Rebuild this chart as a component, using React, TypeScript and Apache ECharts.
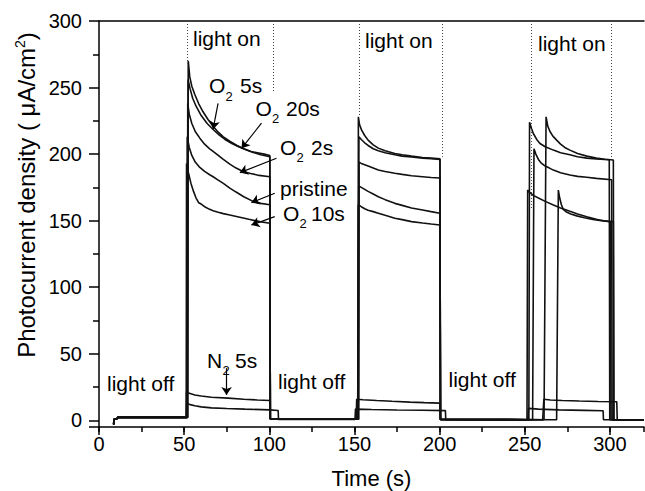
import React, { useEffect, useRef } from "react";
import * as echarts from "echarts";

type Pt = [number, number];

const FONT = '"Liberation Sans", Arial, Helvetica, sans-serif';

// Time axis (s) and current density axis (µA/cm²)
const timeRange: [number, number] = [0, 320];
const densityRange: [number, number] = [-5, 300];
const timeLabelStep = 50;

// Dark-state segment before the first illumination, shared by all traces
const darkStart: Pt[] = [[8.6, -3], [8.8, 0.8], [10.6, 1.2], [11, 2.2]];

const o2_5s: Pt[] = [
  ...darkStart, [52, 2.2], [52.4, 270], [53.3, 258], [54.5, 251], [56.2, 245], [58.5, 238], [61, 232], [64, 226],
  [67, 221], [70, 216.5], [73, 213], [77, 209.5], [81, 206.5], [85, 204], [89, 202], [93, 201], [97, 200],
  [100.3, 199], [100.6, 1], [152, 0.8], [152.3, 228], [153, 222], [154.2, 218], [156, 214], [158, 210.5],
  [161, 207], [164, 204.5], [168, 202.5], [173.7, 200.5], [178, 199.5], [183.5, 198.5], [190, 197.5],
  [195, 197], [200.2, 196.5], [200.5, 0.6], [252.4, 0.5], [252.8, 224], [254, 219], [255, 215.5], [257, 211],
  [258.9, 208], [262, 205.5], [266.8, 203], [271, 201], [276.5, 199.5], [281, 198], [286.4, 197], [292, 196.3],
  [299.6, 195.8], [299.9, 0.5], [320, 0.4],
];

const o2_20s: Pt[] = [
  ...darkStart, [52.1, 2.2], [52.3, 256], [53.5, 249], [55, 242], [57, 236], [60, 229], [63.5, 223], [67, 218.5],
  [70.5, 214.5], [74, 211], [78, 208], [82, 205.5], [86, 203.5], [90, 201.5], [95, 199.5], [100.3, 198],
  [100.6, 1], [152.3, 0.8], [152.6, 213], [154, 211], [156, 208.5], [158, 206.5], [161, 204], [164, 202.5],
  [168, 201], [173.7, 199.5], [178, 198.5], [183.5, 197.8], [190, 197], [195, 196.5], [200.2, 196],
  [200.5, 0.6], [261.3, 0.5], [262.5, 228], [263.5, 221], [264.8, 217], [266.5, 213.5], [268.7, 210.5],
  [271, 207.5], [273.5, 205], [276.5, 203], [281, 200.5], [286.4, 198.5], [292, 197], [297, 196.2],
  [302, 195.6], [302.3, 0.5], [320, 0.4],
];

const o2_2s: Pt[] = [
  ...darkStart, [51.9, 2.2], [52.1, 238], [53, 230], [54.5, 223], [56.5, 217], [59.2, 212], [62, 207.5],
  [65, 204], [67, 202], [70, 199], [73, 196], [76.8, 192.5], [80.5, 189.5], [84.6, 187], [89, 185.5],
  [94, 184], [100.3, 183], [100.6, 1], [152.5, 0.8], [152.7, 194], [154, 193], [156, 192], [158, 191],
  [161, 189.5], [164, 188], [168, 187], [173.7, 185.6], [178, 184.8], [183.5, 183.8], [190, 183],
  [195, 182.4], [200.2, 182], [200.5, 0.6], [254.6, 0.5], [255.4, 204], [256.5, 200], [258, 196],
  [259.5, 193.5], [262, 191], [264.5, 189.5], [266.8, 188], [271, 186], [276.5, 184.3], [281, 183.3],
  [286.4, 182.6], [292, 181.8], [301, 180.8], [301.3, 0.5], [320, 0.4],
];

const pristine: Pt[] = [
  ...darkStart, [51.6, 2.2], [51.8, 213], [53, 205], [54.5, 199], [56.5, 194], [59.2, 190], [62, 187],
  [65, 184.5], [67, 183], [70, 180.5], [73, 178], [76.8, 174.5], [80.5, 171.5], [85, 168], [90.5, 164.5],
  [95, 163], [100.3, 162], [100.6, 1], [152.2, 0.8], [152.5, 176], [154, 175], [156, 173.5], [158, 172],
  [161, 170], [164, 168], [168, 165.8], [173.7, 163], [178, 161.5], [183.5, 159.5], [190, 158],
  [195, 156.8], [200.2, 155.6], [200.5, 0.6], [251.3, 0.5], [251.7, 173], [253, 171], [255, 169],
  [258, 167], [262, 164.5], [266.8, 161.8], [271, 159.5], [276.5, 157], [281, 155], [286.4, 153],
  [292, 151], [296, 150], [300.3, 149], [300.6, 0.5], [320, 0.4],
];

const o2_10s: Pt[] = [
  ...darkStart, [51.2, 2.2], [51.4, 193], [52.5, 186], [54, 178], [55.5, 172], [57, 167], [58.5, 163.5],
  [60, 162.5], [62, 160.5], [65, 158.5], [67, 157.5], [70, 156.3], [73, 155.3], [76.8, 154.3], [82, 152.8],
  [88, 151], [94.4, 149.3], [100.3, 148], [100.6, 1], [151.9, 0.8], [152.2, 162], [154, 160.5], [156, 159],
  [158, 157.8], [161, 156.8], [164, 155.6], [168, 154], [173.7, 151.8], [178, 150.8], [183.5, 149.3],
  [190, 148.2], [195, 147.5], [200.2, 146.8], [200.5, 0.6], [268.7, 0.5], [269.7, 173], [270.5, 167],
  [271.5, 162], [272.6, 158.5], [274.5, 156.5], [277, 155], [280.5, 153.6], [285, 152.2], [290, 151],
  [295, 150], [302, 149.3], [302.3, 0.5], [320, 0.4],
];

const n2_5s: Pt[] = [
  ...darkStart, [51.2, 2.2], [51.4, 21.6], [53, 20.3], [56.3, 19.1], [60, 18.3], [66, 17.4], [75.8, 16.7],
  [85, 15.9], [93, 15.3], [100.3, 14.9], [100.5, 1], [151, 0.8], [151.3, 15.9], [155, 15.5], [163, 14.9],
  [172, 14.3], [182.5, 13.7], [191, 13.3], [200.2, 12.9], [200.4, 0.6], [260.5, 0.5], [261.2, 15.8],
  [265, 15.3], [272, 14.9], [282, 14.5], [293, 14.2], [304, 14], [304.3, 0.4], [320, 0.4],
];

const n2_5sLower: Pt[] = [
  ...darkStart, [51.4, 2.2], [51.6, 12.9], [53.5, 11.8], [56.3, 10.9], [60, 10.1], [66, 9.4], [75, 8.9],
  [85.6, 8.4], [100.3, 7.9], [105.2, 7.4], [105.4, 0.6], [150.3, 0.6], [150.6, 8.4], [160, 8.1],
  [175, 7.8], [190, 7.6], [203.4, 7.3], [203.6, 0.5], [251.8, 0.5], [252.2, 9], [258, 8.4], [270, 7.9],
  [285, 7.5], [296, 7.2], [296.2, 0.4], [320, 0.4],
];

// Illumination switch markers: [time, lower end of the dotted drop line]
const switchMarks: Pt[] = [[51.9, 268], [102.2, 247], [152.6, 228], [201.5, 198], [253.6, 158], [300.6, 197]];

// Annotation arrows: tail and head in data coordinates
const arrows: [Pt, Pt][] = [
  [[69.9, 238.2], [67.0, 218.7]],
  [[95.4, 223.2], [83.7, 204.4]],
  [[104.2, 196.9], [82.7, 186.1]],
  [[103.2, 170.6], [89.5, 163.6]],
  [[103.2, 153.0], [89.5, 146.8]],
  [[74.9, 39.2], [74.9, 19.1]],
];

const traces: { name: string; data: Pt[] }[] = [
  { name: "O2 5s", data: o2_5s },
  { name: "O2 20s", data: o2_20s },
  { name: "O2 2s", data: o2_2s },
  { name: "pristine", data: pristine },
  { name: "O2 10s", data: o2_10s },
  { name: "N2 5s", data: n2_5s },
  { name: "N2 5s lower", data: n2_5sLower },
];

const INK = "#111";
const axisLineStyle = { color: "#000", width: 1.5 };

function txt(x: number, y: number, text: string, size = 21) {
  return {
    type: "text",
    x,
    y,
    silent: true,
    style: { text, fill: "#000", fontSize: size, fontFamily: FONT, align: "left", verticalAlign: "middle" },
  };
}

// Chemical label such as O₂ 5s: main letter, subscript, then remainder
function chem(x: number, y: number, el: string, subX: number, restX: number, rest: string) {
  return [txt(x, y, el), txt(subX, y + 10.5, "2", 13), txt(restX, y, rest)];
}

export default function App() {
  const ref = useRef<HTMLDivElement>(null);

  useEffect(() => {
    if (!ref.current) return;
    const chart = echarts.init(ref.current, null, { renderer: "svg" });

    const series: any[] = traces.map((t) => ({
      name: t.name,
      type: "line",
      data: t.data,
      xAxisIndex: 0,
      yAxisIndex: 0,
      showSymbol: false,
      symbol: "none",
      silent: true,
      lineStyle: { color: INK, width: 1.6 },
    }));

    series[0].markLine = {
      silent: true,
      symbol: ["none", "none"],
      label: { show: false },
      lineStyle: { color: "#444", width: 1, type: [1, 2] },
      data: switchMarks.map(([t, low]) => [{ coord: [t, densityRange[1]] }, { coord: [t, low] }]),
    };
    series[1].markLine = {
      silent: true,
      symbol: ["none", "arrow"],
      symbolSize: 8,
      label: { show: false },
      lineStyle: { color: "#000", width: 1.2, type: "solid" },
      data: arrows.map(([a, b]) => [{ coord: a }, { coord: b }]),
    };

    const labelStyle = { color: "#000", fontSize: 20, fontFamily: FONT };

    chart.setOption({
      animation: false,
      backgroundColor: "#fff",
      grid: { left: 99, right: 1, top: 21, bottom: 64, containLabel: false, outerBoundsMode: "none" },
      xAxis: [
        {
          type: "value",
          min: timeRange[0],
          max: timeRange[1],
          interval: timeLabelStep,
          position: "bottom",
          axisLine: { show: true, onZero: false, lineStyle: axisLineStyle },
          axisTick: { show: true, inside: false, length: 8, lineStyle: axisLineStyle },
          axisLabel: {
            ...labelStyle,
            margin: 7,
            showMaxLabel: false,
            formatter: (v: number) => (v % timeLabelStep === 0 ? String(v) : ""),
          },
          splitLine: { show: false },
          name: "Time (s)",
          nameLocation: "middle",
          nameGap: 40,
          nameTextStyle: { color: "#000", fontSize: 22, fontFamily: FONT },
        },
        {
          type: "value",
          min: timeRange[0],
          max: timeRange[1],
          interval: timeLabelStep / 2,
          position: "bottom",
          axisLine: { show: false, onZero: false },
          axisTick: { show: true, inside: false, length: 5, lineStyle: axisLineStyle },
          axisLabel: { show: false },
          splitLine: { show: false },
        },
        {
          type: "value",
          min: timeRange[0],
          max: timeRange[1],
          position: "top",
          axisLine: { show: true, onZero: false, lineStyle: axisLineStyle },
          axisTick: { show: false },
          axisLabel: { show: false },
          splitLine: { show: false },
        },
      ],
      yAxis: [
        {
          type: "value",
          min: densityRange[0],
          max: densityRange[1],
          splitNumber: 6,
          axisLine: { show: true, onZero: false, lineStyle: axisLineStyle },
          axisTick: { show: true, inside: false, length: 10, lineStyle: axisLineStyle },
          minorTick: { show: true, splitNumber: 2, length: 6, lineStyle: axisLineStyle },
          axisLabel: { ...labelStyle, margin: 17, formatter: (v: number) => (v < 0 ? "" : String(v)) },
          splitLine: { show: false },
          minorSplitLine: { show: false },
        },
      ],
      graphic: [
        {
          type: "text",
          x: 26,
          y: 195,
          rotation: Math.PI / 2,
          silent: true,
          style: {
            text: "{a|Photocurrent density ( μA/cm}{b|2}{a|)}",
            align: "center",
            verticalAlign: "middle",
            fill: "#000",
            rich: {
              a: { fontSize: 24, fontFamily: FONT, fill: "#000", lineHeight: 27 },
              b: { fontSize: 14, fontFamily: FONT, fill: "#000", lineHeight: 16, verticalAlign: "top" },
            },
          },
        },
        txt(193, 38, "light on"),
        txt(365, 40, "light on"),
        txt(538, 43, "light on"),
        txt(107, 383, "light off"),
        txt(278, 381.5, "light off"),
        txt(448.5, 379.5, "light off"),
        ...chem(209, 85.5, "O", 225.5, 240, "5s"),
        ...chem(255.5, 108, "O", 272, 286, "20s"),
        ...chem(280, 147, "O", 296.5, 311, "2s"),
        txt(280, 188, "pristine"),
        ...chem(283, 213, "O", 299.5, 311, "10s"),
        ...chem(207, 360, "N", 222.5, 235, "5s"),
      ],
      series,
    });

    return () => chart.dispose();
  }, []);

  return (
    <div
      ref={ref}
      style={{ position: "fixed", left: 0, top: 0, width: 645, height: 491, background: "#fff" }}
    />
  );
}
